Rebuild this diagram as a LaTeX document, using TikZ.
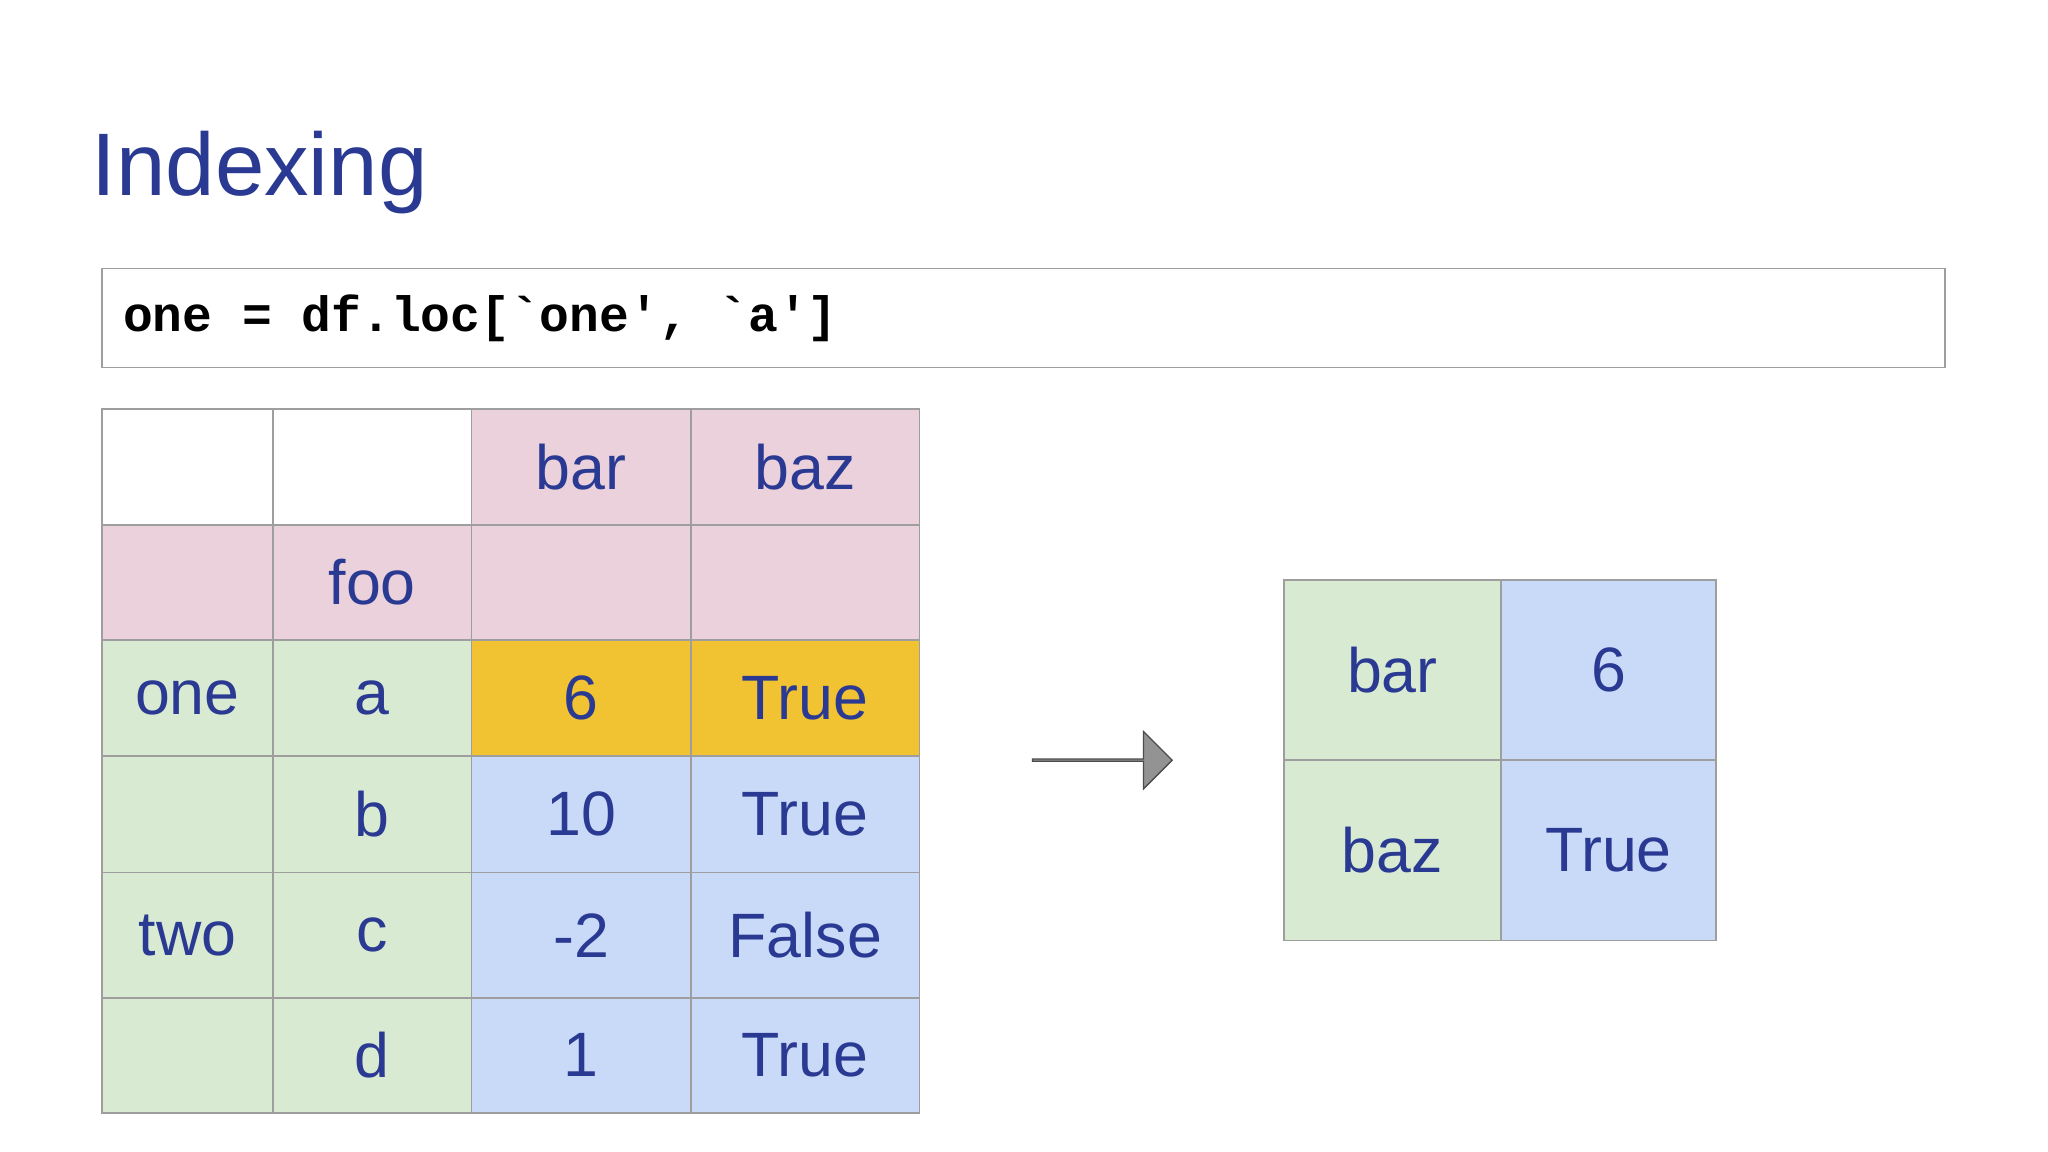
\documentclass[tikz,border=0pt]{standalone}
\usepackage{fontspec}
\setmainfont{Liberation Sans}
\setmonofont{Liberation Mono}
\usetikzlibrary{shapes.arrows,positioning}
\definecolor{navy}{HTML}{2A3A92}
\definecolor{pinkc}{HTML}{EAD1DC}
\definecolor{greenc}{HTML}{D9EAD3}
\definecolor{bluec}{HTML}{C9DAF8}
\definecolor{orangec}{HTML}{F1C232}
\definecolor{gridc}{HTML}{9E9E9E}
\tikzset{
  cell/.style={draw=gridc, line width=1.2pt, inner sep=0pt, text=navy,
    font=\fontsize{48}{48}\selectfont},
  bigcell/.style={cell, font=\fontsize{50}{50}\selectfont}
}
% \tcell{name}{x0}{y0}{x1}{y1}{fill}{text}
\newcommand{\tcell}[7]{%
  \node[cell, fill=#6, minimum width=#4-#2, minimum height=#5-#3]
    (#1) at ({(#2+#4)/2},{(#3+#5)/2}) {#7};}
\begin{document}
\begin{tikzpicture}[x=1pt,y=-1pt]
  \useasboundingbox[fill=white] (0,0) rectangle (1568,882);

  \node[anchor=base west, inner sep=0pt, text=navy,
    font=\fontsize{68}{68}\selectfont] (title) at (70,150) {Indexing};

  \node[draw=gridc, line width=1.2pt, minimum width=1411, minimum height=76,
    inner sep=0pt] (codebox) at (783.5,243.5) {};
  \node[anchor=west, inner sep=0pt, font=\ttfamily\bfseries\fontsize{38}{38}\selectfont]
    (code) at (94,243.5) {one = df.loc[`one', `a']};

  % left table
  \tcell{c00}{78}{313}{209}{402}{white}{}
  \tcell{c01}{209}{313}{361}{402}{white}{}
  \tcell{c02}{361}{313}{529}{402}{pinkc}{bar}
  \tcell{c03}{529}{313}{704}{402}{pinkc}{baz}
  \tcell{c10}{78}{402}{209}{490}{pinkc}{}
  \tcell{c11}{209}{402}{361}{490}{pinkc}{foo}
  \tcell{c12}{361}{402}{529}{490}{pinkc}{}
  \tcell{c13}{529}{402}{704}{490}{pinkc}{}
  \tcell{c20}{78}{490}{209}{579}{greenc}{one}
  \tcell{c21}{209}{490}{361}{579}{greenc}{a}
  \tcell{c22}{361}{490}{529}{579}{orangec}{6}
  \tcell{c23}{529}{490}{704}{579}{orangec}{True}
  \tcell{c30}{78}{579}{209}{668}{greenc}{}
  \tcell{c31}{209}{579}{361}{668}{greenc}{b}
  \tcell{c32}{361}{579}{529}{668}{bluec}{10}
  \tcell{c33}{529}{579}{704}{668}{bluec}{True}
  \tcell{c40}{78}{668}{209}{764}{greenc}{two}
  \tcell{c41}{209}{668}{361}{764}{greenc}{c}
  \tcell{c42}{361}{668}{529}{764}{bluec}{-2}
  \tcell{c43}{529}{668}{704}{764}{bluec}{False}
  \tcell{c50}{78}{764}{209}{852}{greenc}{}
  \tcell{c51}{209}{764}{361}{852}{greenc}{d}
  \tcell{c52}{361}{764}{529}{852}{bluec}{1}
  \tcell{c53}{529}{764}{704}{852}{bluec}{True}

  % result
  \tcell{r00}{983}{444}{1149}{582}{greenc}{bar}
  \tcell{r01}{1149}{444}{1314}{582}{bluec}{6}
  \tcell{r10}{983}{582}{1149}{720}{greenc}{baz}
  \tcell{r11}{1149}{582}{1314}{720}{bluec}{True}

  \node[single arrow, draw=black!70, fill=gray!85, line width=1pt,
    minimum width=44, minimum height=107, single arrow head extend=12,
    inner sep=0pt] (arr) at (843.5,582) {};
\end{tikzpicture}
\end{document}
